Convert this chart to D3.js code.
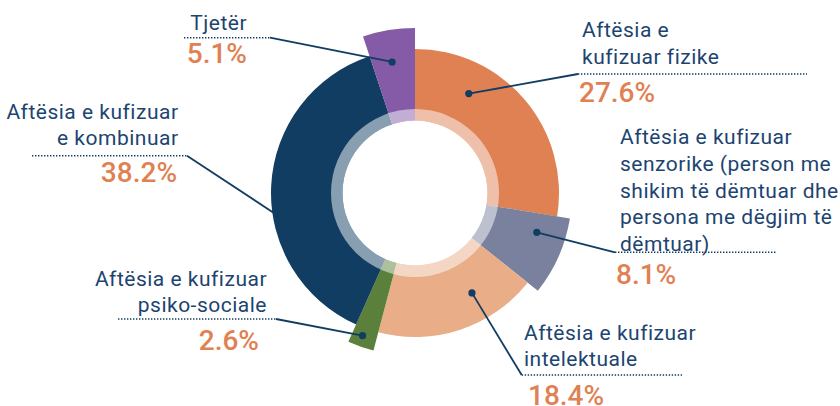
<!DOCTYPE html>
<html>
<head>
<meta charset="utf-8">
<script src="https://cdn.jsdelivr.net/npm/d3@7"></script>
<style>
  html, body { margin: 0; padding: 0; background: #ffffff; }
  svg { display: block; font-family: Roboto, "Noto Sans", sans-serif; }
</style>
</head>
<body>
<svg id="chart" width="840" height="406"></svg>
<script>
// ---- data ----
const categories = [
  ["Aftësia e", "kufizuar fizike"],
  ["Aftësia e kufizuar", "senzorike (person me", "shikim të dëmtuar dhe", "persona me dëgjim të", "dëmtuar)"],
  ["Aftësia e kufizuar", "intelektuale"],
  ["Aftësia e kufizuar", "psiko-sociale"],
  ["Aftësia e kufizuar", "e kombinuar"],
  ["Tjetër"]
];
const values = [27.6, 8.1, 18.4, 2.6, 38.2, 5.1];
const valueLabels = ["27.6%", "8.1%", "18.4%", "2.6%", "38.2%", "5.1%"];

// ---- style / layout ----
const colors = ["#df8153", "#7a819e", "#e9ad88", "#5a803b", "#113d62", "#855aa6"];
const outerRadii = [144, 157, 144, 163, 144, 165];
const cx = 415, cy = 193;
const holeR = 72.5, ringR = 84;
const textColor = "#1c4470";
const lineColor = "#113d62";
const pctColor = "#df8153";

const layout = [
  {anchor: "start", x: 582, y: 37,  lh: 26.5, dy: 74,    dx1: 578, dx2: 807, px: 579, py: 102,  lx: 578, dotFrac: 0.286, dotR: 113},
  {anchor: "start", x: 620, y: 144, lh: 26.8, dy: 252.3, dx1: 615, dx2: 777, px: 616, py: 283.5, lx: 615, dotFrac: 0.293, dotR: 128},
  {anchor: "start", x: 524, y: 340, lh: 26,   dy: 375,   dx1: 521.7, dx2: 682, px: 528, py: 405, lx: 521.7, dotFrac: 0.329, dotR: 115},
  {anchor: "end",   x: 267, y: 286, lh: 26,   dy: 319,   dx1: 118, dx2: 276, px: 259, py: 350,  lx: 276, dotFrac: 0.58, dotR: 152},
  {anchor: "end",   x: 178.5, y: 119, lh: 26, dy: 155.7, dx1: 32, dx2: 187, px: 177, py: 181.5, lx: 187, dotFrac: 0.331, dotR: 117},
  {anchor: "end",   x: 247, y: 29.5, lh: 26,  dy: 37.7,  dx1: 184, dx2: 270, px: 247, py: 62.5, lx: 270, dotFrac: 0.46, dotR: 133}
];

const svg = d3.select("#chart");
const g = svg.append("g").attr("transform", `translate(${cx},${cy})`);

const pie = d3.pie().sort(null).value(d => d);
const arcsData = pie(values);
const arcGen = d3.arc();

g.selectAll("path.slice")
  .data(arcsData)
  .join("path")
  .attr("class", "slice")
  .attr("fill", (d, i) => colors[i])
  .attr("d", (d, i) => arcGen({
    innerRadius: holeR - 1,
    outerRadius: outerRadii[i],
    startAngle: d.startAngle,
    endAngle: d.endAngle
  }));

// translucent ring
g.append("path")
  .attr("d", d3.arc()({innerRadius: holeR, outerRadius: ringR, startAngle: 0, endAngle: 2 * Math.PI}))
  .attr("fill", "#ffffff")
  .attr("fill-opacity", 0.5);

// white hole
g.append("circle").attr("r", holeR).attr("fill", "#ffffff");

arcsData.forEach((d, i) => {
  const L = layout[i];
  const a = d.startAngle + L.dotFrac * (d.endAngle - d.startAngle);
  const dotX = cx + L.dotR * Math.sin(a);
  const dotY = cy - L.dotR * Math.cos(a);

  svg.append("line")
    .attr("x1", L.dx1).attr("x2", L.dx2)
    .attr("y1", L.dy).attr("y2", L.dy)
    .attr("stroke", lineColor)
    .attr("stroke-width", 1.6)
    .attr("stroke-dasharray", "1.4 1.6");

  svg.append("line")
    .attr("x1", L.lx).attr("y1", L.dy)
    .attr("x2", dotX).attr("y2", dotY)
    .attr("stroke", lineColor)
    .attr("stroke-width", 1.8);

  svg.append("circle")
    .attr("cx", dotX).attr("cy", dotY).attr("r", 3.6)
    .attr("fill", lineColor);

  const t = svg.append("text")
    .attr("text-anchor", L.anchor)
    .attr("fill", textColor)
    .attr("font-size", 21)
    .attr("letter-spacing", 0.5)
    .attr("font-weight", 400);
  categories[i].forEach((line, k) => {
    t.append("tspan").attr("x", L.x).attr("y", L.y + k * L.lh).text(line);
  });

  svg.append("text")
    .attr("x", L.px).attr("y", L.py)
    .attr("text-anchor", L.anchor)
    .attr("fill", pctColor)
    .attr("font-size", 28)
    .attr("font-weight", 500)
    .text(valueLabels[i]);
});
</script>
</body>
</html>
